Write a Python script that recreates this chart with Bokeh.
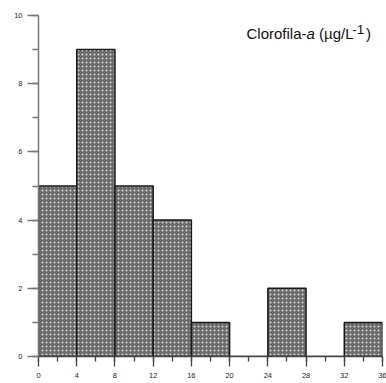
from bokeh.plotting import figure
from bokeh.models import Range1d, SingleIntervalTicker, Label
from bokeh.embed import file_html
from bokeh.resources import INLINE

# Data: histogram of Clorofila-a (µg/L-1)
bin_edges = [0, 4, 8, 12, 16, 20, 24, 28, 32, 36]
counts = [5, 9, 5, 4, 1, 0, 2, 0, 1]

W, H = 386, 383
BL, BR, BT, BB = 38, 4, 15, 27
FW, FH = W - BL - BR, H - BT - BB
XMAX, YMAX = 36, 10

p = figure(width=W, height=H, output_backend="svg", toolbar_location=None,
           x_range=Range1d(0, XMAX), y_range=Range1d(0, YMAX),
           min_border_left=BL, min_border_right=BR, min_border_top=BT, min_border_bottom=BB)
p.outline_line_color = None
p.xgrid.visible = False
p.ygrid.visible = False
p.background_fill_color = "white"
p.border_fill_color = "white"

lefts = bin_edges[:-1]
rights = bin_edges[1:]
p.quad(left=lefts, right=rights, bottom=[0] * len(counts), top=counts,
       fill_color="#6a6a6a", line_color="#1a1a1a", line_width=1.5,
       hatch_pattern="dot", hatch_color="#d8d8d8", hatch_scale=4, hatch_weight=1.2)

for ax, interval, standoff, col in ((p.xaxis[0], 4, 6, "#444444"), (p.yaxis[0], 2, 5, "#777777")):
    ax.ticker = SingleIntervalTicker(interval=interval, num_minor_ticks=2)
    ax.axis_line_color = col
    ax.axis_line_width = 1.5
    ax.major_tick_line_color = col
    ax.minor_tick_line_color = col
    ax.major_tick_line_width = 1.3
    ax.minor_tick_line_width = 1.3
    ax.major_tick_out = 11 if ax is p.yaxis[0] else 10
    ax.major_tick_in = 0
    ax.minor_tick_out = 6 if ax is p.yaxis[0] else 5
    ax.minor_tick_in = 0
    ax.major_label_text_font = "Liberation Sans"
    ax.major_label_text_font_size = "7.5px"
    ax.major_label_text_color = "#222222"
    ax.major_label_standoff = standoff


def dx(fx):
    return (fx - BL) * XMAX / FW


def dy(fy):
    return (BT + FH - fy) * YMAX / FH


pieces = [
    ("Clorofila-", 246, 32.5, "15px", "normal"),
    ("a", 306, 32.5, "15px", "italic"),
    ("(µg/L", 318.5, 32.5, "15px", "normal"),
    ("-1", 351.8, 29, "13.5px", "normal"),
    (")", 365.5, 32.5, "15px", "normal"),
]
for txt, fx, fy, fs, style in pieces:
    p.add_layout(Label(x=dx(fx), y=dy(fy), text=txt, text_font="Liberation Sans",
                       text_font_size=fs, text_font_style=style, text_color="#111111",
                       text_baseline="alphabetic", text_align="left"))

open("out.html", "w").write(file_html(p, INLINE))
